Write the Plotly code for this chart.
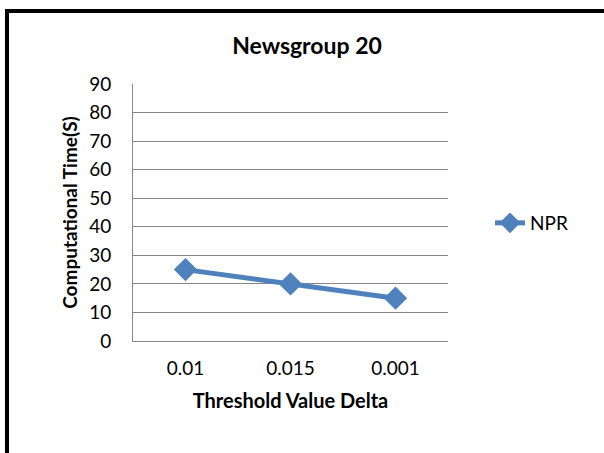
import plotly.graph_objects as go

categories = ["0.01", "0.015", "0.001"]
npr_values = [25, 20, 15]
y_ticks = [0, 10, 20, 30, 40, 50, 60, 70, 80, 90]

W, H = 604, 453
L, R, T, B = 133, 448, 84, 341
pw, ph = R - L, B - T

def px(x):
    return (x - L) / pw

def py(y):
    return (B - y) / ph

FONT = "Lato"

fig = go.Figure()
fig.add_trace(go.Scatter(
    x=categories, y=npr_values, mode="lines+markers", name="NPR",
    line=dict(color="#4F81BD", width=5),
    marker=dict(symbol="diamond", size=18, color="#4F81BD"),
))

fig.update_layout(
    width=W, height=H,
    margin=dict(l=L, r=W - R, t=T, b=H - B),
    paper_bgcolor="white", plot_bgcolor="white",
    font=dict(family=FONT, color="black", size=19),
    title=dict(text="<b>Newsgroup 20</b>", x=px(307), xref="paper", xanchor="center",
               y=1 - 46 / H, yanchor="middle", font=dict(size=23, family=FONT)),
    showlegend=True,
    legend=dict(x=px(490), y=py(223), xanchor="left", yanchor="middle",
                font=dict(size=19, family=FONT), bgcolor="rgba(0,0,0,0)"),
    xaxis=dict(
        type="category", range=[-0.5, 2.5], showgrid=False,
        showline=True, linecolor="#868686", linewidth=1,
        ticks="", ticklabelstandoff=10,
        tickfont=dict(size=19, family=FONT),
        title=dict(text="<b>Threshold Value Delta</b>", standoff=16,
                   font=dict(size=20, family=FONT)),
    ),
    yaxis=dict(
        range=[0, 90], tickvals=y_ticks, showgrid=True, gridcolor="#868686", gridwidth=1,
        showline=True, linecolor="#868686", linewidth=1, zeroline=False,
        ticks="", ticklabelstandoff=17,
        tickfont=dict(size=19, family=FONT),
        title=dict(text="<b>Computational Time(S)</b>", standoff=6,
                   font=dict(size=19, family=FONT)),
    ),
    shapes=[dict(type="rect", xref="paper", yref="paper",
                 x0=px(7), x1=px(640), y0=py(480), y1=py(11),
                 line=dict(color="black", width=4), fillcolor="rgba(0,0,0,0)",
                 layer="below")],
)

fig.write_html("out.html", config={"displayModeBar": False},
               post_script="document.body.style.margin='0';")
